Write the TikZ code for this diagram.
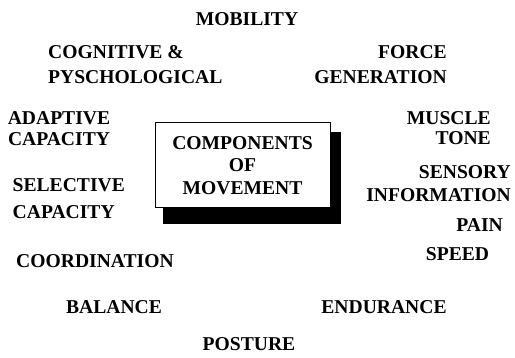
\documentclass[tikz,border=0pt]{standalone}
\usepackage{fontspec}
\setmainfont{Liberation Serif}
\usetikzlibrary{backgrounds}
\begin{document}
\begin{tikzpicture}[x=1pt,y=-1pt,
  lbl/.style={font=\bfseries\fontsize{19.6}{#1}\selectfont, inner sep=0pt, text=black},
  lbl/.default=20,
  centrebox/.style={draw, line width=1pt, fill=white, align=center,
    minimum width=175pt, minimum height=85pt, inner sep=0pt,
    font=\bfseries\fontsize{19.6}{22.5}\selectfont}]
\useasboundingbox (0,0) rectangle (515,358);

% central box with its heavy drop shadow
\node[centrebox] (centre) at (242.5,165.5) {COMPONENTS\\OF\\MOVEMENT};
\begin{scope}[on background layer]
  \fill[black] ([xshift=8pt,yshift=-10pt]centre.north west)
    rectangle ([xshift=10pt,yshift=-15.5pt]centre.south east);
\end{scope}

% components arranged around the box
\node[lbl] (mobility) at (247,19.3) {MOBILITY};
\node[lbl=25, align=left, anchor=west] (cognitive) at (48,64.2) {COGNITIVE \&\\PYSCHOLOGICAL};
\node[lbl=25, align=right, anchor=east] (force) at (447,64.2) {FORCE\\GENERATION};
\node[lbl=20.5, align=center] (adaptive) at (59,128.6) {ADAPTIVE\\CAPACITY};
\node[lbl=20, align=right, anchor=east] (muscle) at (491,128.2) {MUSCLE\\TONE};
\node[lbl=23.5, align=right, anchor=east] (sensory) at (511,183.8) {SENSORY\\INFORMATION};
\node[lbl=27, align=left, anchor=west] (selective) at (12.5,198.5) {SELECTIVE\\CAPACITY};
\node[lbl, anchor=east] (pain) at (503,225) {PAIN};
\node[lbl] (speed) at (457.5,254.5) {SPEED};
\node[lbl] (coordination) at (95,261.5) {COORDINATION};
\node[lbl] (balance) at (114,307) {BALANCE};
\node[lbl] (endurance) at (384,307) {ENDURANCE};
\node[lbl] (posture) at (249,344) {POSTURE};
\end{tikzpicture}
\end{document}
